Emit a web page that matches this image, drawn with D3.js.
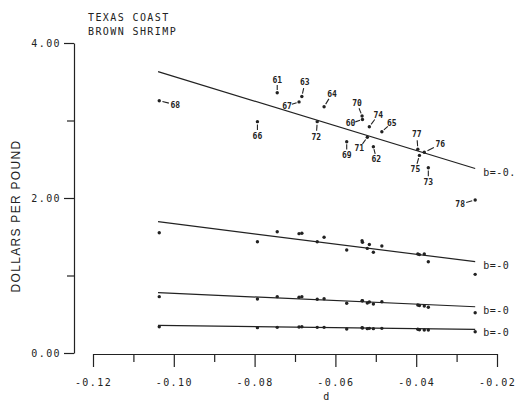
<!doctype html>
<html lang="en">
<head>
    <meta charset="utf-8">
    <title>Texas Coast Brown Shrimp</title>
    <script src="https://d3js.org/d3.v7.min.js"></script>
    <style>
        body { margin: 0; background: #fff; }
        svg { display: block; }
        .plot { font-family: "DejaVu Sans Mono", monospace; font-size: 10px; letter-spacing: 1.4px; fill: #222; }
        .fitlab { font-family: "DejaVu Sans Mono", monospace; font-size: 10px; letter-spacing: 0.5px; fill: #222; }
        .axis path, .axis line { stroke: #222; stroke-width: 1.2; }
        .axis text { font-family: "DejaVu Sans Mono", monospace; font-size: 10px; letter-spacing: 1.4px; fill: #222; }
    </style>
</head>
<body>
<script>
    // year label of each season, and its d value
    var years  = ["68","61","63","67","64","72","66","69","70","60","74","65","71","62","77","76","75","73","78"];
    var dVals  = [-0.1036,-0.0744,-0.0683,-0.0690,-0.0628,-0.0645,-0.0793,-0.0572,-0.0534,-0.0533,
                  -0.0516,-0.0485,-0.0521,-0.0506,-0.0396,-0.0380,-0.0392,-0.0370,-0.0254];

    // dollars per pound, four series (top one labelled by year)
    var price1 = [3.255,3.359,3.31,3.24,3.178,2.985,2.985,2.726,3.058,3.013,2.92,2.855,2.783,2.662,2.63,2.59,2.55,2.39,1.974];
    var price2 = [1.552,1.565,1.545,1.54,1.493,1.436,1.436,1.329,1.449,1.428,1.40,1.38,1.35,1.30,1.277,1.277,1.27,1.178,1.015];
    var price3 = [0.727,0.727,0.727,0.72,0.70,0.693,0.697,0.641,0.675,0.675,0.658,0.662,0.645,0.632,0.619,0.606,0.612,0.59,0.52];
    var price4 = [0.339,0.331,0.339,0.335,0.331,0.331,0.327,0.31,0.327,0.323,0.318,0.318,0.314,0.314,0.306,0.297,0.30,0.297,0.275];

    // fitted lines: value at start and end of d range
    var fitD   = [-0.1039, -0.0254];
    var fits   = [[3.63, 2.38], [1.694, 1.178], [0.778, 0.597], [0.357, 0.306]];
    var fitLabels = ["b=-0.", "b=-0", "b=-0", "b=-0"];

    var xTicks = [-0.12, -0.10, -0.08, -0.06, -0.04, -0.02];
    var xMinor = [-0.11, -0.09, -0.07, -0.05, -0.03];
    var yTicks = [0, 2, 4];
    var yMinor = [1, 3];

    // where each year label sits relative to its point (px)
    var labelOffset = {
        "68":[16,4], "61":[0,-13], "63":[3,-14], "67":[-12,4], "64":[8,-13], "72":[-1,15],
        "66":[0,14], "69":[0,13], "70":[-5,-13], "60":[-12,4], "74":[9,-12], "65":[10,-9],
        "71":[-8,11], "62":[3,12], "77":[-1,-15], "76":[16,-8], "75":[-4,14], "73":[0,14], "78":[-15,4]
    };

    const width = 517, height = 402;

    const svg = d3.select("body").append("svg")
                  .attr("width", width)
                  .attr("height", height);

    const x = d3.scaleLinear().domain([-0.12, -0.02]).range([93, 497]);
    const y = d3.scaleLinear().domain([0, 4]).range([353, 43]);
    const yAxisX = 74;

    // Y axis
    svg.append("g").attr("class", "axis")
       .attr("transform", "translate(" + yAxisX + ",0)")
       .call(d3.axisLeft(y).tickValues(yTicks).tickSize(10).tickSizeOuter(0).tickPadding(3)
               .tickFormat(function(d) { return d.toFixed(2); }));
    svg.append("g").attr("class", "axis")
       .attr("transform", "translate(" + yAxisX + ",0)")
       .call(d3.axisLeft(y).tickValues(yMinor).tickSize(7).tickSizeOuter(0).tickFormat(""))
       .select(".domain").remove();

    // X axis
    svg.append("g").attr("class", "axis")
       .attr("transform", "translate(0,354)")
       .call(d3.axisBottom(x).tickValues(xTicks).tickSize(13).tickSizeOuter(0).tickPadding(12)
               .tickFormat(function(d) { return d.toFixed(2); }));
    svg.append("g").attr("class", "axis")
       .attr("transform", "translate(0,354)")
       .call(d3.axisBottom(x).tickValues(xMinor).tickSize(8).tickSizeOuter(0).tickFormat(""))
       .select(".domain").remove();

    // Axis titles
    svg.append("text").attr("class", "plot")
       .attr("x", 327).attr("y", 400).attr("text-anchor", "middle").text("d");

    svg.append("text")
       .attr("transform", "translate(20,216) rotate(-90)")
       .attr("text-anchor", "middle")
       .style("font-family", "Liberation Sans, Arial, sans-serif")
       .style("font-size", "12px")
       .style("letter-spacing", "1.3px")
       .style("fill", "#222")
       .text("DOLLARS PER POUND");

    // Title
    svg.append("text").attr("class", "plot").attr("x", 88).attr("y", 21).text("TEXAS COAST");
    svg.append("text").attr("class", "plot").attr("x", 88).attr("y", 35).text("BROWN SHRIMP");

    // Fitted lines
    var line = d3.line()
                 .x(function(d) { return x(d[0]); })
                 .y(function(d) { return y(d[1]); });

    fits.forEach(function(f, i) {
        svg.append("path")
           .attr("d", line([[fitD[0], f[0]], [fitD[1], f[1]]]))
           .attr("fill", "none").attr("stroke", "#222").attr("stroke-width", 1.2);
        svg.append("text").attr("class", "fitlab")
           .attr("x", x(fitD[1]) + 8).attr("y", y(f[1]) + 7)
           .text(fitLabels[i]);
    });

    // Points
    [price1, price2, price3, price4].forEach(function(series) {
        svg.append("g").selectAll("circle")
           .data(series)
           .enter()
           .append("circle")
           .attr("cx", function(d, i) { return x(dVals[i]); })
           .attr("cy", function(d) { return y(d); })
           .attr("r", 1.7)
           .attr("fill", "#222");
    });

    // Year labels with leader ticks on the top series
    var lab = svg.append("g").selectAll("g")
                 .data(years)
                 .enter()
                 .append("g");

    lab.append("line")
       .attr("x1", function(d, i) { return x(dVals[i]) + labelOffset[d][0] * 0.2; })
       .attr("y1", function(d, i) { return y(price1[i]) + labelOffset[d][1] * 0.2; })
       .attr("x2", function(d, i) { return x(dVals[i]) + labelOffset[d][0] * 0.6; })
       .attr("y2", function(d, i) { return y(price1[i]) + labelOffset[d][1] * 0.6; })
       .attr("stroke", "#222").attr("stroke-width", 1.1);

    lab.append("text")
       .attr("x", function(d, i) { return x(dVals[i]) + labelOffset[d][0]; })
       .attr("y", function(d, i) { return y(price1[i]) + labelOffset[d][1] + 3; })
       .attr("text-anchor", "middle")
       .style("font-family", "DejaVu Sans Mono, monospace")
       .style("font-size", "8px")
       .style("font-weight", "bold")
       .style("fill", "#222")
       .text(function(d) { return d; });
</script>
</body>
</html>
